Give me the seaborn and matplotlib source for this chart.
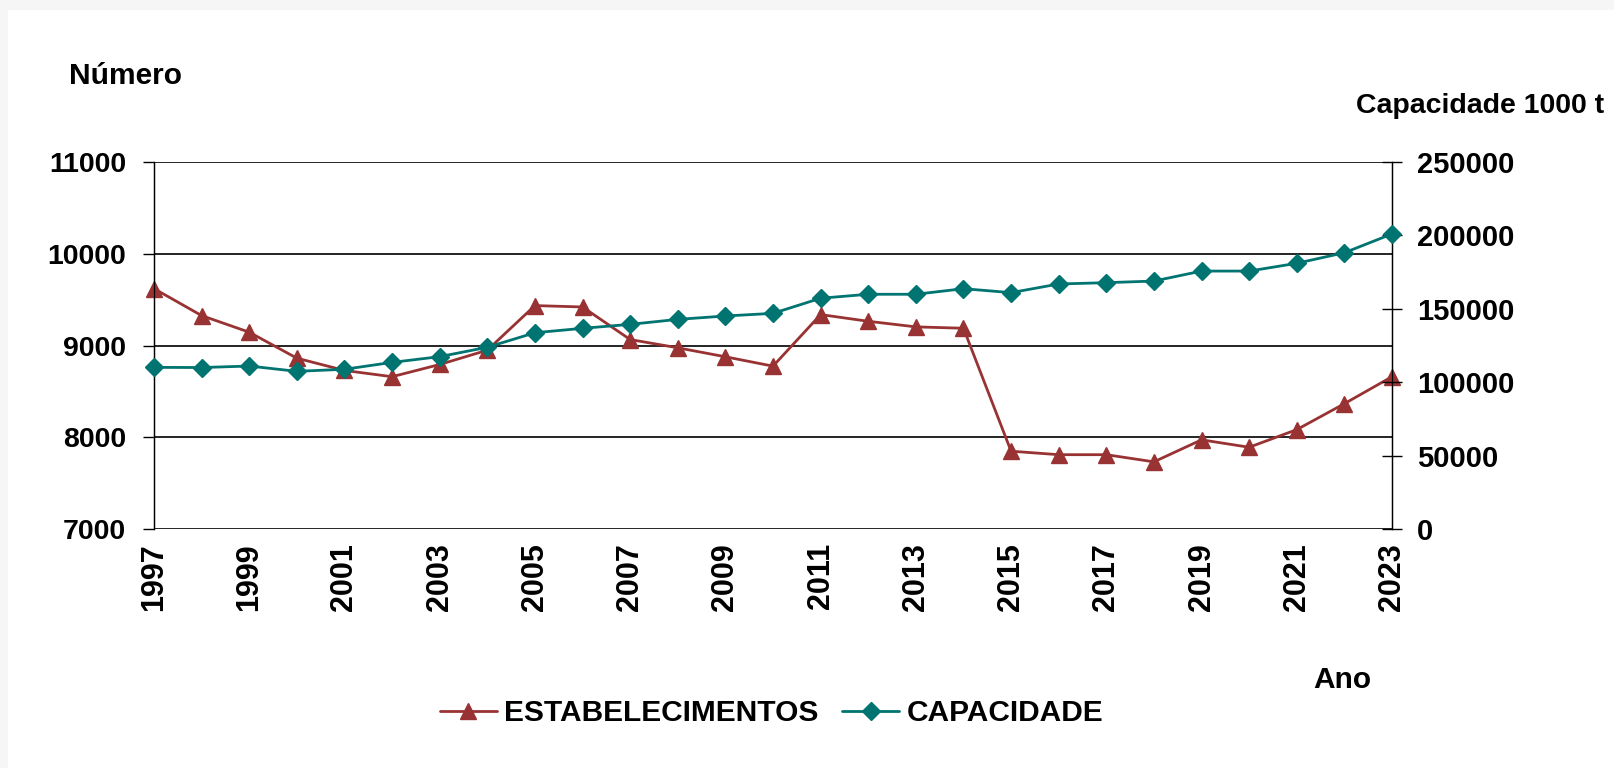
import matplotlib
matplotlib.use("Agg")
import matplotlib.pyplot as plt
from matplotlib.patches import Rectangle
import seaborn as sns
import pandas as pd

# ---- data ----
years = list(range(1997, 2024))
estabelecimentos = [9620, 9326, 9145, 8862, 8728, 8660, 8793, 8949, 9435, 9420,
                    9065, 8975, 8877, 8775, 9337, 9264, 9203, 9188, 7848, 7810,
                    7810, 7732, 7972, 7891, 8083, 8366, 8660]
capacidade = [110100, 110000, 111000, 107400, 108800, 113500, 117400, 123800,
              133700, 136700, 139400, 142800, 145100, 146900, 157200, 159900,
              159900, 163700, 161000, 166900, 167800, 168900, 175700, 175700,
              181000, 188200, 201000]
left_ticks = [7000, 8000, 9000, 10000, 11000]
right_ticks = [0, 50000, 100000, 150000, 200000, 250000]
series_names = ["ESTABELECIMENTOS", "CAPACIDADE"]

df = pd.DataFrame({"Ano": years, "E": estabelecimentos, "C": capacidade})

sns.set_style("white")
plt.rcParams["font.family"] = ["Liberation Sans", "DejaVu Sans"]
plt.rcParams["font.weight"] = "bold"
plt.rcParams["text.color"] = "black"
plt.rcParams["xtick.color"] = "black"
plt.rcParams["ytick.color"] = "black"
plt.rcParams["xtick.labelcolor"] = "black"
plt.rcParams["ytick.labelcolor"] = "black"

W, H = 1615, 768
fig = plt.figure(figsize=(W / 100, H / 100), dpi=100)
fig.patch.set_facecolor("#f6f6f6")
fig.patches.append(Rectangle((8 / W, 0), 1 - 8 / W, 1 - 10 / H,
                             transform=fig.transFigure, facecolor="white",
                             edgecolor="none", zorder=-10))

L, R, T, B = 154, 1392, 162, 529
ax = fig.add_axes([L / W, 1 - B / H, (R - L) / W, (B - T) / H])
ax.set_facecolor("none")
ax2 = ax.twinx()

RED = "#993333"
TEAL = "#007470"

sns.lineplot(data=df, x="Ano", y="E", ax=ax, color=RED, marker="^",
             markersize=11.5, markeredgecolor=RED, markeredgewidth=1,
             linewidth=2.0, label=series_names[0], legend=False,
             clip_on=False, zorder=3)
sns.lineplot(data=df, x="Ano", y="C", ax=ax2, color=TEAL, marker="D",
             markersize=9.5, markeredgecolor=TEAL, markeredgewidth=1,
             linewidth=2.0, label=series_names[1], legend=False,
             clip_on=False, zorder=3)

ax.set_xlim(years[0], years[-1])
ax.set_ylim(left_ticks[0], left_ticks[-1])
ax2.set_ylim(right_ticks[0], right_ticks[-1])

ax.set_xticks(years)
ax.set_xticklabels([str(y) if (y - years[0]) % 2 == 0 else "" for y in years],
                   rotation=90, fontsize=22, fontweight="bold")
ax.set_yticks(left_ticks)
ax.set_yticklabels([str(v) for v in left_ticks], fontsize=20.5, fontweight="bold")
ax2.set_yticks(right_ticks)
ax2.set_yticklabels([str(v) for v in right_ticks], fontsize=21, fontweight="bold")

ax.tick_params(axis="x", direction="inout", length=12, width=1, color="black", pad=4)
ax.tick_params(axis="y", direction="out", length=8, width=1, color="black", pad=12)
ax2.tick_params(axis="y", direction="inout", length=14, width=1, color="black", pad=11)

ax.set_xlabel("")
ax.set_ylabel("")
ax2.set_ylabel("")

ax.grid(axis="y", color="black", linewidth=1.2)
ax.set_axisbelow(True)
for a in (ax, ax2):
    for s in ("top", "bottom"):
        a.spines[s].set_visible(False)
    a.spines["left"].set_color("black")
    a.spines["right"].set_color("black")
    a.spines["left"].set_linewidth(0.9)
    a.spines["right"].set_linewidth(0.9)

fig.text(69 / W, 1 - 84 / H, "Número", fontsize=21.5, fontweight="bold", va="baseline")
fig.text(1356 / W, 1 - 113 / H, "Capacidade 1000 t", fontsize=20.5,
         fontweight="bold", va="baseline")
fig.text(1313 / W, 1 - 688 / H, "Ano", fontsize=21.5, fontweight="bold", va="baseline")

h1, l1 = ax.get_legend_handles_labels()
h2, l2 = ax2.get_legend_handles_labels()
fig.legend(h1 + h2, l1 + l2, loc="center left",
           bbox_to_anchor=(440 / W, 1 - 713 / H), ncol=2, frameon=False,
           prop={"size": 21.5, "weight": "bold"}, borderaxespad=0, borderpad=0,
           handlelength=1.9, handletextpad=0.25, columnspacing=0.8)

fig.savefig("out.png", dpi=100)
